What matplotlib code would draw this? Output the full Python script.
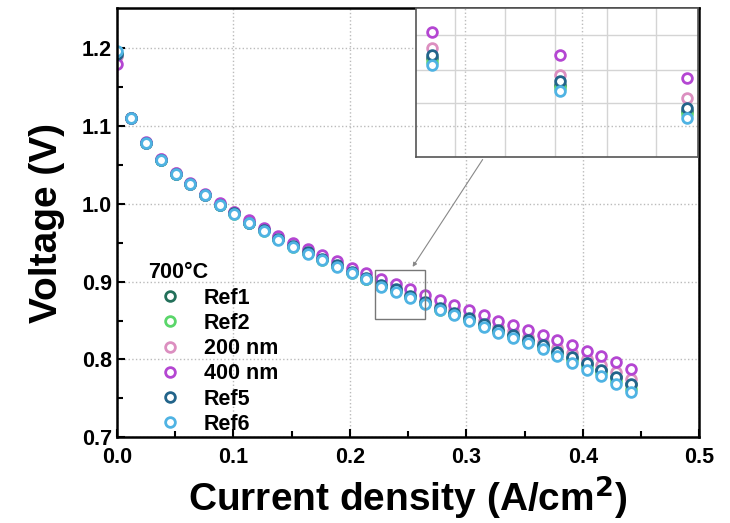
import matplotlib
matplotlib.use('Agg')
import matplotlib.pyplot as plt
from matplotlib.patches import Rectangle

plt.rcParams['font.family'] = ['Liberation Sans', 'DejaVu Sans']
plt.rcParams['font.weight'] = 'bold'

# current density (A/cm2), OCV point first
current = [0.0, 0.0126, 0.0252, 0.0378, 0.0504, 0.063, 0.0756, 0.0882, 0.1008, 0.1134,
           0.126, 0.1386, 0.1512, 0.1638, 0.1764, 0.189, 0.2016, 0.2142, 0.2268, 0.2394,
           0.252, 0.2646, 0.2772, 0.2898, 0.3024, 0.315, 0.3276, 0.3402, 0.3528, 0.3654,
           0.378, 0.3906, 0.4032, 0.4158, 0.4284, 0.441]

ref1 = [1.192, 1.110, 1.078, 1.057, 1.039, 1.025, 1.012, 0.999, 0.988, 0.976,
        0.966, 0.955, 0.946, 0.937, 0.929, 0.920, 0.912, 0.904, 0.895, 0.889,
        0.881, 0.873, 0.865, 0.859, 0.852, 0.845, 0.837, 0.831, 0.824, 0.817,
        0.809, 0.802, 0.794, 0.786, 0.777, 0.768]
ref2 = [1.193, 1.110, 1.078, 1.057, 1.039, 1.025, 1.011, 0.999, 0.987, 0.975,
        0.965, 0.955, 0.945, 0.937, 0.928, 0.920, 0.911, 0.903, 0.894, 0.888,
        0.880, 0.872, 0.864, 0.858, 0.851, 0.843, 0.836, 0.829, 0.822, 0.815,
        0.807, 0.799, 0.790, 0.782, 0.772, 0.762]
nm200 = [1.190, 1.110, 1.078, 1.058, 1.040, 1.026, 1.012, 1.000, 0.989, 0.977,
         0.967, 0.957, 0.948, 0.939, 0.931, 0.923, 0.915, 0.907, 0.899, 0.892,
         0.884, 0.877, 0.869, 0.863, 0.856, 0.849, 0.842, 0.836, 0.829, 0.822,
         0.815, 0.808, 0.801, 0.793, 0.784, 0.775]
nm400 = [1.180, 1.110, 1.079, 1.058, 1.040, 1.027, 1.013, 1.001, 0.990, 0.979,
         0.969, 0.959, 0.950, 0.942, 0.934, 0.926, 0.918, 0.911, 0.904, 0.897,
         0.890, 0.883, 0.876, 0.870, 0.863, 0.857, 0.850, 0.844, 0.838, 0.831,
         0.825, 0.818, 0.811, 0.805, 0.797, 0.788]
ref5 = [1.193, 1.110, 1.078, 1.057, 1.039, 1.025, 1.012, 0.999, 0.988, 0.976,
        0.966, 0.955, 0.946, 0.938, 0.929, 0.921, 0.913, 0.905, 0.896, 0.890,
        0.882, 0.874, 0.866, 0.860, 0.853, 0.846, 0.838, 0.832, 0.825, 0.818,
        0.810, 0.803, 0.796, 0.787, 0.778, 0.769]
ref6 = [1.196, 1.110, 1.078, 1.057, 1.039, 1.025, 1.011, 0.999, 0.987, 0.975,
        0.965, 0.954, 0.945, 0.936, 0.928, 0.919, 0.911, 0.903, 0.893, 0.887,
        0.879, 0.871, 0.863, 0.857, 0.850, 0.842, 0.834, 0.828, 0.821, 0.813,
        0.805, 0.796, 0.786, 0.779, 0.768, 0.758]

labels = ['Ref1', 'Ref2', '200 nm', '400 nm', 'Ref5', 'Ref6']
colors = ['#23705a', '#5ad66a', '#dc8fc0', '#b446d2', '#22648a', '#4fb3e3']
series = [ref1, ref2, nm200, nm400, ref5, ref6]

# zoomed region marked in the main plot
box_x = (0.2216, 0.2646)
box_y = (0.852, 0.915)
# inset view limits
inset_x = (0.2378, 0.2657)
inset_y = (0.8591, 0.9043)


def draw(ax, ms, mew):
    for s, c, lab in zip(series, colors, labels):
        ax.plot(current, s, 'o', mfc='white', mec=c, ms=ms, mew=mew,
                label=lab, linestyle='none')


fig = plt.figure(figsize=(7.3, 5.23), dpi=100)
ax = fig.add_axes([0.160, 0.164, 0.798, 0.821])
draw(ax, 7, 2)

ax.set_xlim(0, 0.5)
ax.set_ylim(0.7, 1.252)
ax.set_xticks([0.0, 0.1, 0.2, 0.3, 0.4, 0.5])
ax.set_yticks([0.7, 0.8, 0.9, 1.0, 1.1, 1.2])
ax.set_xticks([0.05, 0.15, 0.25, 0.35, 0.45], minor=True)
ax.set_yticks([0.75, 0.85, 0.95, 1.05, 1.15], minor=True)
ax.tick_params(direction='in', which='both', labelsize=15.5, width=1.5)
ax.tick_params(which='major', length=6)
ax.tick_params(which='minor', length=4)
ax.tick_params(axis='x', which='major', pad=7)
ax.grid(True, which='major', linestyle=':', color='#bbbbbb', linewidth=1)
for sp in ax.spines.values():
    sp.set_linewidth(1.8)

ax.set_xlabel('Current density (A/cm$^\\mathbf{2}$)', fontsize=28, fontweight='bold', labelpad=4)
ax.set_ylabel('Voltage (V)', fontsize=28, fontweight='bold', labelpad=12)

leg = ax.legend(loc='lower left', bbox_to_anchor=(0.02, -0.04), frameon=False,
                title='700°C', fontsize=15.5, handletextpad=0.5, labelspacing=0.2,
                alignment='left', handlelength=2.1)
leg.get_title().set_fontweight('bold')
leg.get_title().set_fontsize(15.5)

ax.add_patch(Rectangle((box_x[0], box_y[0]), box_x[1] - box_x[0], box_y[1] - box_y[0],
                       fill=False, edgecolor='#777777', linewidth=1, zorder=5))

# inset
axin = fig.add_axes([0.570, 0.700, 0.386, 0.285])
draw(axin, 7, 2)
axin.set_xlim(*inset_x)
axin.set_ylim(*inset_y)
axin.set_xticks([0.2417, 0.2466, 0.2516, 0.2567, 0.2616])
axin.set_yticks([0.8755, 0.8855, 0.8961])
axin.set_xticks([0.2426, 0.2542], minor=True)
axin.set_yticks([0.8685], minor=True)
axin.tick_params(which='both', length=0, labelbottom=False, labelleft=False)
axin.grid(True, which='major', color='#d4d4d4', linewidth=1)
axin.grid(True, which='minor', color='#bcbcbc', linestyle=':', linewidth=1)
axin.set_axisbelow(True)
for sp in axin.spines.values():
    sp.set_color('#555555')
    sp.set_linewidth(1.2)

ax.annotate('', xy=(0.2526, box_y[1] + 0.001), xycoords='data',
            xytext=(0.3153, 1.060), textcoords='data',
            arrowprops=dict(arrowstyle='-|>', color='#888888', lw=0.8,
                            mutation_scale=6))

fig.savefig('out.png', dpi=100)
